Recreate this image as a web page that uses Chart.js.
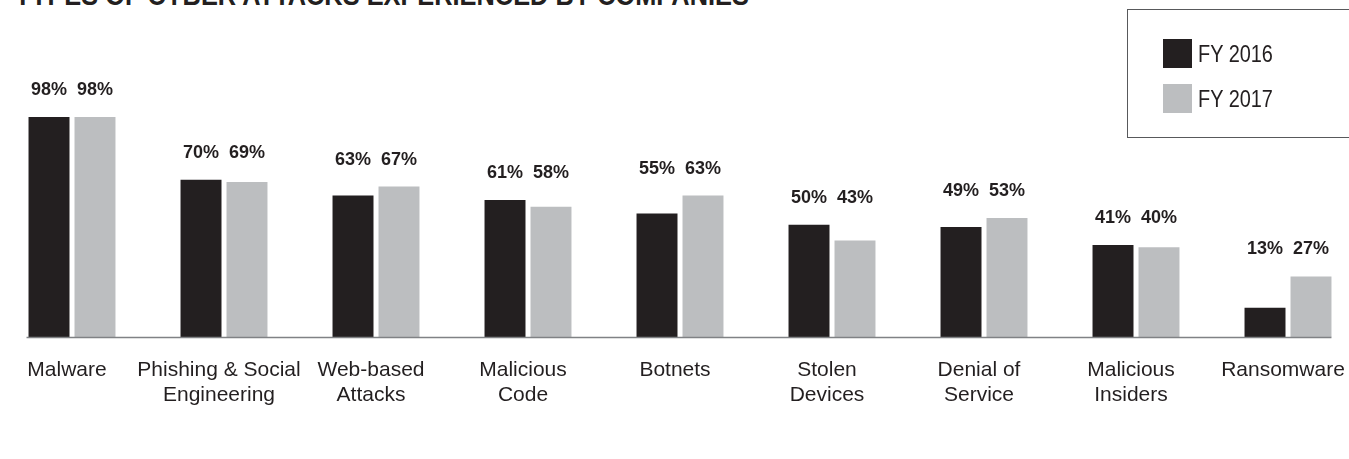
<!DOCTYPE html>
<html>
<head>
<meta charset="utf-8">
<script src="https://cdn.jsdelivr.net/npm/chart.js@4.4.0/dist/chart.umd.min.js"></script>
<style>
  html, body { margin: 0; padding: 0; background: #ffffff; overflow: hidden; width: 1349px; height: 459px; }
  #title { position: absolute; left: 15px; top: -20px; font-family: "Liberation Sans", sans-serif; font-weight: bold; font-size: 30px; color: #231f20; white-space: nowrap; line-height: 30px; transform: scaleX(0.845); transform-origin: 0 0; }
  #wrap { position: absolute; left: -4px; top: 0; width: 1368px; height: 459px; }
  #legend { position: absolute; left: 1127px; top: 9px; width: 260px; height: 129px; border: 1px solid #58595b; box-sizing: border-box; }
  .item { position: absolute; left: 35px; height: 29px; font-family: "Liberation Sans", sans-serif; font-size: 24px; color: #231f20; line-height: 29px; white-space: nowrap; }
  .sw { display: inline-block; width: 29px; height: 29px; vertical-align: top; margin-right: 6px; }
  .tx { display: inline-block; transform: scaleX(0.83); transform-origin: 0 50%; }
</style>
</head>
<body>
<div id="title">TYPES OF CYBER ATTACKS EXPERIENCED BY COMPANIES</div>
<div id="wrap"><canvas id="c" width="1368" height="459"></canvas></div>
<div id="legend"></div>
<script>
const categories = [
  "Malware",
  ["Phishing & Social", "Engineering"],
  ["Web-based", "Attacks"],
  ["Malicious", "Code"],
  "Botnets",
  ["Stolen", "Devices"],
  ["Denial of", "Service"],
  ["Malicious", "Insiders"],
  "Ransomware"
];
const fy2016 = [98, 70, 63, 61, 55, 50, 49, 41, 13];
const fy2017 = [98, 69, 67, 58, 63, 43, 53, 40, 27];
const seriesNames = ["FY 2016", "FY 2017"];
const seriesColors = ["#231f20", "#bcbec0"];

const labelPlugin = {
  id: "pctLabels",
  afterDatasetsDraw(chart) {
    const ctx = chart.ctx;
    const m0 = chart.getDatasetMeta(0), m1 = chart.getDatasetMeta(1);
    ctx.save();
    ctx.font = "bold 18px 'Liberation Sans', sans-serif";
    ctx.fillStyle = "#231f20";
    ctx.textAlign = "center";
    ctx.textBaseline = "middle";
    for (let i = 0; i < categories.length; i++) {
      const b0 = m0.data[i], b1 = m1.data[i];
      const top = Math.min(b0.y, b1.y);
      ctx.fillText(chart.data.datasets[0].data[i] + "%", b0.x, top - 27);
      ctx.fillText(chart.data.datasets[1].data[i] + "%", b1.x, top - 27);
    }
    // baseline axis line spanning the bars
    const first = m0.data[0], last = m1.data[categories.length - 1];
    const y0 = chart.scales.y.getPixelForValue(0);
    ctx.strokeStyle = "#808285";
    ctx.lineWidth = 1.5;
    ctx.beginPath();
    ctx.moveTo(first.x - first.width / 2 - 2, y0 + 0.5);
    ctx.lineTo(last.x + last.width / 2, y0 + 0.5);
    ctx.stroke();
    ctx.restore();
  }
};

const chart = new Chart(document.getElementById("c"), {
  type: "bar",
  data: {
    labels: categories,
    datasets: [
      { label: seriesNames[0], data: fy2016, backgroundColor: seriesColors[0] },
      { label: seriesNames[1], data: fy2017, backgroundColor: seriesColors[1] }
    ]
  },
  options: {
    responsive: false,
    animation: false,
    devicePixelRatio: 1,
    layout: { padding: { top: 112.5, bottom: 0, left: 0, right: 0 } },
    categoryPercentage: 0.605,
    barPercentage: 0.891,
    plugins: { legend: { display: false }, tooltip: { enabled: false }, title: { display: false } },
    scales: {
      y: { display: false, min: 0, max: 100 },
      x: {
        grid: { display: false },
        border: { display: false },
        ticks: {
          color: "#231f20",
          font: { family: "'Liberation Sans', sans-serif", size: 21, lineHeight: 1.17 },
          padding: 13,
          labelOffset: -5,
          maxRotation: 0,
          autoSkip: false
        },
        afterFit(s) { s.height = 122; }
      }
    }
  },
  plugins: [labelPlugin]
});

const lg = document.getElementById("legend");
seriesNames.forEach((n, i) => {
  const d = document.createElement("div");
  d.className = "item";
  d.style.top = (29 + i * 45) + "px";
  d.innerHTML = '<span class="sw" style="background:' + seriesColors[i] + '"></span><span class="tx">' + n + '</span>';
  lg.appendChild(d);
});
</script>
</body>
</html>
